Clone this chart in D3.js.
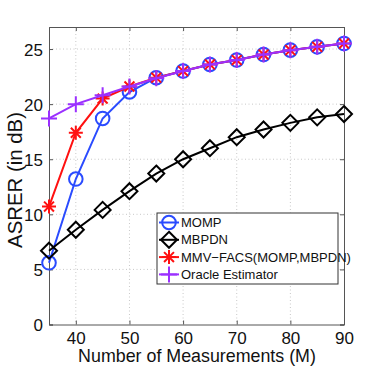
<!DOCTYPE html>
<html><head><meta charset="utf-8">
<script src="https://cdn.jsdelivr.net/npm/d3@7"></script>
<style>body{margin:0;background:#fff}svg{display:block;font-family:"Liberation Sans",Arial,Helvetica,sans-serif}</style>
</head><body><svg id="c" width="381" height="366"></svg>
<script>
const measurements = [35,40,45,50,55,60,65,70,75,80,85,90];
const momp   = [5.6,13.2,18.7,21.1,22.4,23.0,23.6,24.0,24.5,24.9,25.2,25.5];
const mbpdn  = [6.7,8.6,10.4,12.1,13.7,15.0,16.0,17.0,17.7,18.3,18.8,19.1];
const mmvfacs= [10.7,17.4,20.5,21.6,22.4,23.0,23.6,24.0,24.5,24.9,25.2,25.5];
const oracle = [18.7,20.0,20.8,21.6,22.35,23.0,23.6,24.0,24.5,24.9,25.2,25.5];
const seriesNames = ["MOMP","MBPDN","MMV\u2212FACS(MOMP,MBPDN)","Oracle Estimator"];
const xTicks = [40,50,60,70,80,90];
const yTicks = [0,5,10,15,20,25];

const svg = d3.select("#c");
const L=49,R=344,T=27,B=324.5;
const x = d3.scaleLinear().domain([35,90]).range([L,R]);
const y = d3.scaleLinear().domain([0,27]).range([B,T]);

// grid
const g = svg.append("g");
g.selectAll(".gx").data(xTicks.filter(t=>t<90)).enter().append("line")
 .attr("x1",d=>x(d)).attr("x2",d=>x(d)).attr("y1",T).attr("y2",B)
 .attr("stroke","#c8c8c8").attr("stroke-width",1).attr("stroke-dasharray","1,2.5");
g.selectAll(".gy").data(yTicks.filter(t=>t>0)).enter().append("line")
 .attr("y1",d=>y(d)).attr("y2",d=>y(d)).attr("x1",L).attr("x2",R)
 .attr("stroke","#c8c8c8").attr("stroke-width",1).attr("stroke-dasharray","1,2.5");

// axes
const xAxis = d3.axisBottom(x).tickValues([35].concat(xTicks)).tickSize(-4).tickPadding(7)
  .tickFormat(d=> d===35 ? "" : d);
const yAxis = d3.axisLeft(y).tickValues(yTicks).tickSize(-4).tickPadding(6);
const ax = svg.append("g").attr("transform",`translate(0,${B})`).call(xAxis);
const ay = svg.append("g").attr("transform",`translate(${L},0)`).call(yAxis);
const ay2 = svg.append("g").attr("transform",`translate(${R},0)`).call(d3.axisRight(y).tickValues(yTicks).tickSize(-4).tickFormat(""));
const ax2 = svg.append("g").attr("transform",`translate(0,${T})`).call(d3.axisTop(x).tickValues(xTicks).tickSize(-4).tickFormat(""));
[ax,ay,ay2,ax2].forEach(a=>{
  a.selectAll("path").attr("stroke","#555").attr("stroke-width",1);
  a.selectAll("line").attr("stroke","#555");
  a.selectAll("text").attr("fill","#111").style("font-size","17px").style("font-family","Liberation Sans, Arial, sans-serif");
});
ay.selectAll("text").attr("dy","0.36em");

function fit(t, w){
  const len = t.node().getComputedTextLength();
  const fs = parseFloat(t.style("font-size"));
  t.style("font-size", (fs*w/len).toFixed(2)+"px");
}
const xt = svg.append("text").attr("x",197).attr("y",362).attr("text-anchor","middle")
 .style("font-size","18px").attr("fill","#111").text("Number of Measurements (M)");
fit(xt,238);
const yt = svg.append("text").attr("transform",`translate(22,180) rotate(-90)`).attr("text-anchor","middle")
 .style("font-size","18px").attr("fill","#111").text("ASRER (in dB)");
fit(yt,136);

const colors = ["#2a4bff","#000000","#ff1010","#9b30ff"];
const datas = [momp,mbpdn,mmvfacs,oracle];
const line = d3.line().x((d,i)=>x(measurements[i])).y(d=>y(d));

function marker(sel, k, cx, cy){
  const c = colors[k];
  if(k===0){
    sel.append("circle").attr("cx",cx).attr("cy",cy).attr("r",6.8).attr("fill","none").attr("stroke",c).attr("stroke-width",2);
  } else if(k===1){
    const s=8;
    sel.append("path").attr("d",`M${cx},${cy-s}L${cx+s},${cy}L${cx},${cy+s}L${cx-s},${cy}Z`).attr("fill","none").attr("stroke",c).attr("stroke-width",2);
  } else if(k===2){
    const s=7, d=s*0.707;
    sel.append("path").attr("d",`M${cx-s},${cy}L${cx+s},${cy}M${cx},${cy-s}L${cx},${cy+s}M${cx-d},${cy-d}L${cx+d},${cy+d}M${cx-d},${cy+d}L${cx+d},${cy-d}`)
     .attr("stroke",c).attr("stroke-width",2).attr("fill","none");
  } else {
    const s=8;
    sel.append("path").attr("d",`M${cx-s},${cy}L${cx+s},${cy}M${cx},${cy-s}L${cx},${cy+s}`)
     .attr("stroke",c).attr("stroke-width",2).attr("fill","none");
  }
}

datas.forEach((arr,k)=>{
  const gg = svg.append("g");
  gg.append("path").datum(arr).attr("d",line).attr("fill","none").attr("stroke",colors[k]).attr("stroke-width",2);
  arr.forEach((v,i)=>marker(gg,k,x(measurements[i]),y(v)));
});

// legend
const lg = svg.append("g");
lg.append("rect").attr("x",157).attr("y",213).attr("width",181).attr("height",71).attr("fill","#fff").attr("stroke","#333").attr("stroke-width",1);
seriesNames.forEach((n,k)=>{
  const yy = 222.5 + k*17.3;
  lg.append("line").attr("x1",159).attr("x2",179).attr("y1",yy).attr("y2",yy).attr("stroke",colors[k]).attr("stroke-width",2);
  marker(lg,k,169,yy);
  lg.append("text").attr("x",181).attr("y",yy).attr("dy","0.36em").style("font-size","13px").attr("fill","#111").text(n);
});
</script></body></html>
